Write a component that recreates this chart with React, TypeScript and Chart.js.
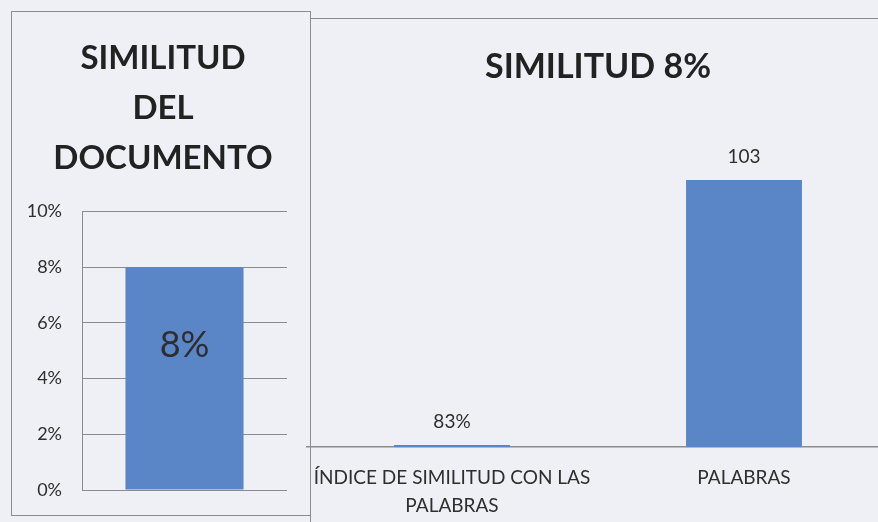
import { useEffect, useRef } from "react";
import Chart from "chart.js/auto";

const leftTitle = ["SIMILITUD", "DEL", "DOCUMENTO"];
const leftCategories = [""];
const leftValues = [0.08];
const leftValueLabels = ["8%"];
const leftAxisMax = 0.1;
const leftAxisStep = 0.02;

const rightTitle = "SIMILITUD 8%";
const rightCategories = [["ÍNDICE DE SIMILITUD CON LAS", "PALABRAS"], "PALABRAS"];
const rightValues = [0.83, 103];
const rightValueLabels = ["83%", "103"];
const rightAxisMax = 125;

const FONT = "Lato, 'Open Sans', sans-serif";
const BG = "#eff0f5";
const BAR = "#5a86c8";
const LINE = "#8c8c8c";
const TEXT = "#2e2e2e";

function makeLabelPlugin(texts: string[], mode: "inside" | "above", size: number) {
  return {
    id: "valueLabels",
    afterDatasetsDraw(chart: any) {
      const meta = chart.getDatasetMeta(0);
      const ctx = chart.ctx;
      ctx.save();
      ctx.font = `${size}px ${FONT}`;
      ctx.fillStyle = TEXT;
      ctx.textAlign = "center";
      ctx.textBaseline = "middle";
      meta.data.forEach((bar: any, i: number) => {
        const y = mode === "inside" ? bar.y + (bar.base - bar.y) * 0.35 : bar.y - 23;
        ctx.fillText(texts[i], bar.x, y);
      });
      ctx.restore();
    },
  };
}

const widenYLabelArea = {
  id: "widenYLabelArea",
  afterLayout(chart: any) {
    const y = chart.scales.y;
    if (y) y.left = 0;
  },
};

function LeftChart() {
  const ref = useRef<HTMLCanvasElement>(null);
  useEffect(() => {
    const chart = new Chart(ref.current!, {
      type: "bar",
      data: {
        labels: leftCategories,
        datasets: [
          {
            data: leftValues,
            backgroundColor: BAR,
            barPercentage: 1,
            categoryPercentage: 0.576,
          },
        ],
      },
      options: {
        animation: false,
        responsive: false,
        events: [],
        layout: { padding: { left: 28, right: 23, top: 0, bottom: 25 } },
        plugins: {
          legend: { display: false },
          tooltip: { enabled: false },
          title: {
            display: true,
            text: leftTitle,
            color: "#222",
            font: { family: FONT, size: 33, weight: "bold", lineHeight: 1.52 },
            padding: { top: 22, bottom: 28 },
          },
        },
        scales: {
          x: { display: false },
          y: {
            min: 0,
            max: leftAxisMax,
            afterFit: (s: any) => {
              s.width = 43;
              s.paddingTop = 0;
              s.paddingBottom = 0;
            },
            ticks: {
              stepSize: leftAxisStep,
              padding: 20,
              color: TEXT,
              font: { family: FONT, size: 18 },
              callback: (v: any) => `${Math.round(Number(v) * 100)}%`,
            },
            grid: { color: LINE, drawTicks: false, lineWidth: 1 },
            border: { display: true, color: LINE },
          },
        },
      },
      plugins: [widenYLabelArea, makeLabelPlugin(leftValueLabels, "inside", 36)],
    });
    return () => chart.destroy();
  }, []);
  return <canvas ref={ref} width={299} height={504} style={{ position: "absolute", left: 11, top: 11, width: 299, height: 504 }} />;
}

function RightChart() {
  const ref = useRef<HTMLCanvasElement>(null);
  useEffect(() => {
    const chart = new Chart(ref.current!, {
      type: "bar",
      data: {
        labels: rightCategories,
        datasets: [
          {
            data: rightValues,
            backgroundColor: BAR,
            barPercentage: 1,
            categoryPercentage: 0.397,
          },
        ],
      },
      options: {
        animation: false,
        responsive: false,
        events: [],
        layout: { padding: { left: 0, right: 6, top: 0, bottom: 3 } },
        plugins: {
          legend: { display: false },
          tooltip: { enabled: false },
          title: {
            display: true,
            text: rightTitle,
            color: "#222",
            font: { family: FONT, size: 34, weight: "bold", lineHeight: 1.2 },
            padding: { top: 33, bottom: 35 },
          },
        },
        scales: {
          x: {
            afterFit: (s: any) => {
              s.paddingLeft = 0;
              s.paddingRight = 0;
            },
            ticks: {
              padding: 17,
              color: TEXT,
              maxRotation: 0,
              autoSkip: false,
              font: { family: FONT, size: 19, lineHeight: 1.47 },
            },
            grid: { display: false, drawTicks: false },
            border: { display: true, color: LINE, width: 1.5 },
          },
          y: { display: false, min: 0, max: rightAxisMax },
        },
      },
      plugins: [makeLabelPlugin(rightValueLabels, "above", 19)],
    });
    return () => chart.destroy();
  }, []);
  return <canvas ref={ref} width={590} height={526} style={{ position: "absolute", left: 306, top: 14, width: 590, height: 526 }} />;
}

export default function App() {
  return (
    <div style={{ position: "fixed", left: 0, top: 0, width: 878, height: 522, overflow: "hidden", background: BG }}>
      <RightChart />
      <LeftChart />
      <div style={{ position: "absolute", left: 11, top: 11, width: 298, height: 503, border: `1.5px solid ${LINE}`, pointerEvents: "none" }} />
      <div style={{ position: "absolute", left: 310, top: 18, width: 600, height: 600, borderLeft: `1.5px solid ${LINE}`, borderTop: `1.5px solid ${LINE}`, pointerEvents: "none" }} />
    </div>
  );
}
